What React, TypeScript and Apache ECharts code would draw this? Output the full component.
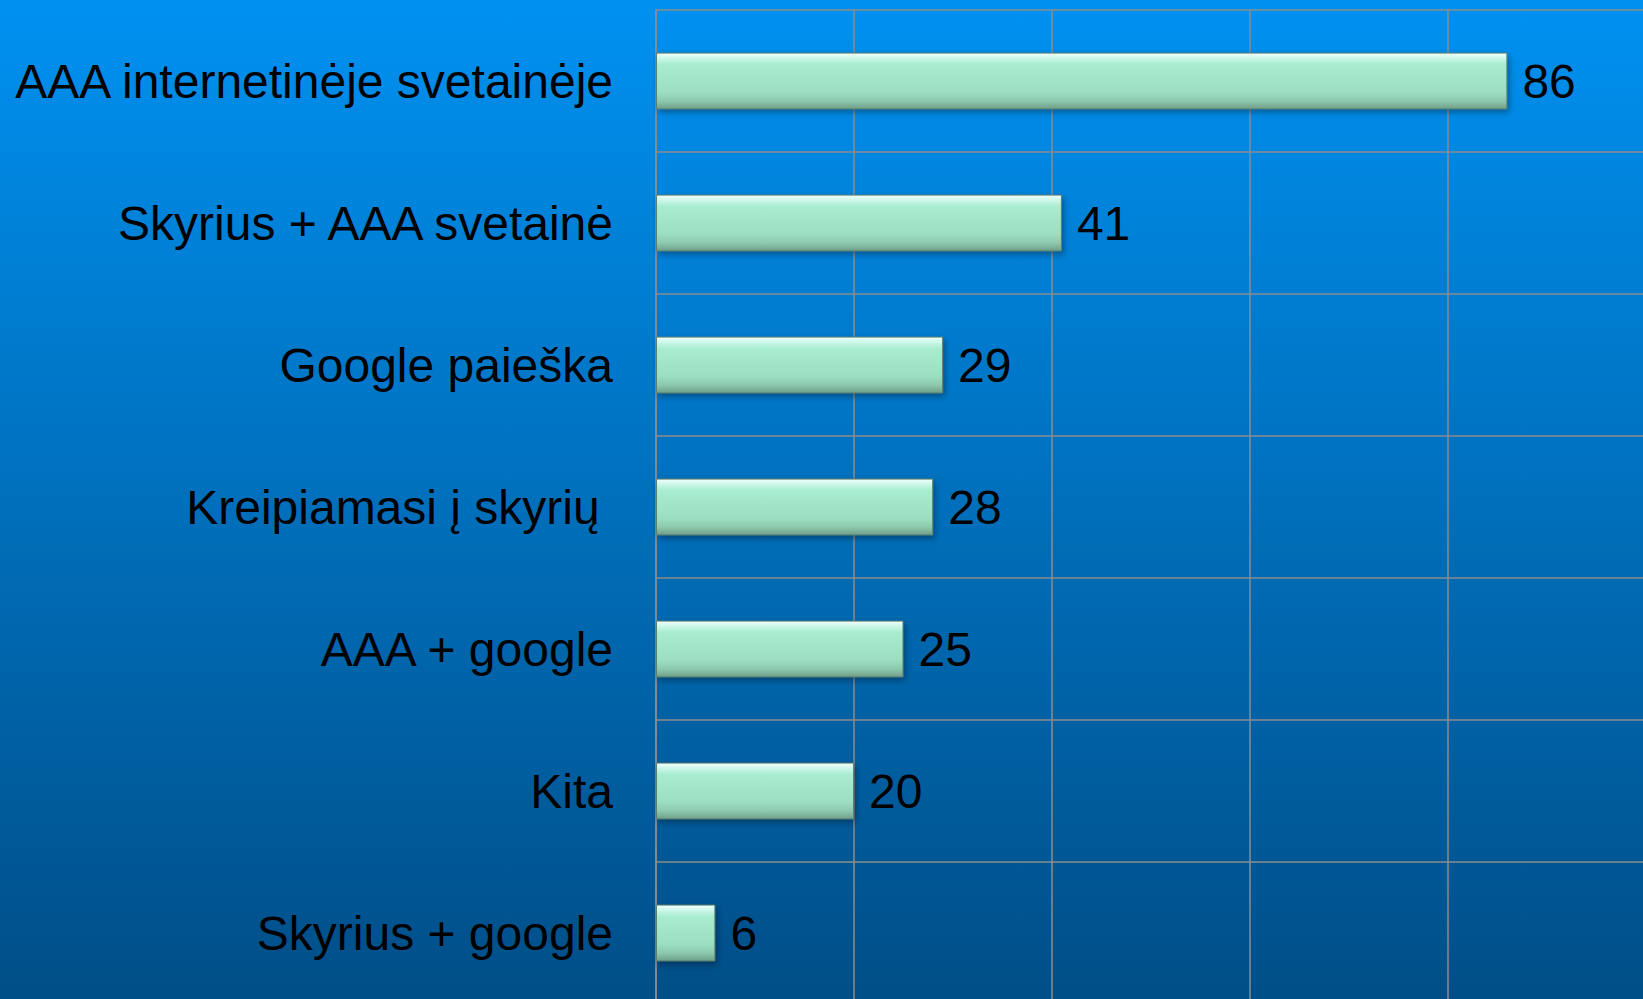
import React, { useEffect, useRef } from "react";
import * as echarts from "echarts";

const categories = [
  "AAA internetinėje svetainėje",
  "Skyrius + AAA svetainė",
  "Google paieška",
  "Kreipiamasi į skyrių ",
  "AAA + google",
  "Kita",
  "Skyrius + google",
];
const values = [86, 41, 29, 28, 25, 20, 6];
const axisMax = 100;
const axisInterval = 20;

export default function App() {
  const ref = useRef<HTMLDivElement>(null);
  useEffect(() => {
    if (!ref.current) return;
    document.documentElement.style.overflow = "hidden";
    document.body.style.overflow = "hidden";
    const chart = echarts.init(ref.current, null, { renderer: "svg" });
    const font = "Arial, 'Liberation Sans', sans-serif";
    chart.setOption({
      animation: false,
      backgroundColor: new echarts.graphic.LinearGradient(
        0,
        0,
        0,
        999,
        [
          { offset: 0, color: "#0091f1" },
          { offset: 1, color: "#004e87" },
        ],
        true
      ),
      grid: { left: 656, top: 10, width: 990, height: 994, containLabel: false },
      xAxis: {
        type: "value",
        min: 0,
        max: axisMax,
        interval: axisInterval,
        axisLabel: { show: false },
        axisLine: { show: false },
        axisTick: { show: false },
        splitLine: { show: true, lineStyle: { color: "#8c8c8c", width: 1.5 } },
      },
      yAxis: {
        type: "category",
        inverse: true,
        data: categories,
        axisLine: { show: true, lineStyle: { color: "#8c8c8c", width: 1.5 } },
        axisTick: { show: false },
        axisLabel: {
          fontSize: 48,
          color: "#000",
          fontFamily: font,
          margin: 43,
          padding: [0, 0, 4, 0],
        },
        splitLine: { show: true, lineStyle: { color: "#8c8c8c", width: 1.5 } },
      },
      series: [
        {
          type: "bar",
          data: values,
          barWidth: "40%",
          itemStyle: {
            color: new echarts.graphic.LinearGradient(0, 0, 0, 1, [
              { offset: 0, color: "#f2fffd" },
              { offset: 0.1, color: "#c9f7e7" },
              { offset: 0.2, color: "#a9edd1" },
              { offset: 0.7, color: "#9bdec0" },
              { offset: 0.86, color: "#8cc9ad" },
              { offset: 1, color: "#6f9f89" },
            ]),
            borderColor: "#5e7f6f",
            borderWidth: 1,
            shadowColor: "rgba(0,0,0,0.35)",
            shadowBlur: 6,
            shadowOffsetY: 3,
            shadowOffsetX: 2,
          },
          label: {
            show: true,
            position: "right",
            distance: 15,
            fontSize: 48,
            color: "#000",
            fontFamily: font,
          },
        },
      ],
    });
    return () => chart.dispose();
  }, []);
  return (
    <div
      ref={ref}
      style={{ position: "fixed", left: 0, top: 0, width: 1700, height: 1060 }}
    />
  );
}
